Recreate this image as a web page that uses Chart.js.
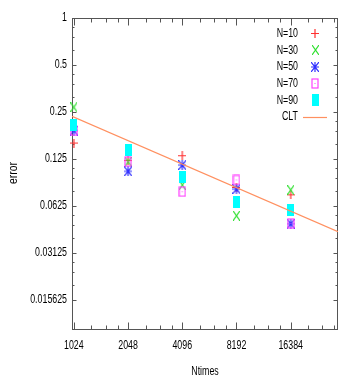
<!DOCTYPE html>
<html>
<head>
<meta charset="utf-8">
<title>error vs Ntimes</title>
<script src="https://cdn.jsdelivr.net/npm/chart.js@4/dist/chart.umd.min.js"></script>
<style>
  html, body { margin: 0; padding: 0; background: #fff; }
  #chart { display: block; }
</style>
</head>
<body>
<canvas id="chart" width="354" height="382"></canvas>
<script>
// Values
const ntimes = [1024, 2048, 4096, 8192, 16384];
const errN10 = [0.158, 0.122, 0.131, 0.082, 0.0735];
const errN30 = [0.268, 0.120, 0.085, 0.054, 0.079];
const errN50 = [0.190, 0.104, 0.114, 0.080, 0.048];
const errN70 = [0.189, 0.120, 0.077, 0.0916, 0.0483];
const errN90 = [0.207, 0.143, 0.096, 0.0658, 0.059];
const cltX = [1000, 30000];
const cltY = [0.234, 0.0427];

// Axis ticks
const xTicks = [1024, 2048, 4096, 8192, 16384];
const xMinorTicks = [1280, 1536, 1792, 2560, 3072, 3584, 5120, 6144, 7168,
  10240, 12288, 14336, 20480, 24576, 28672];
const yTicks = [1, 0.5, 0.25, 0.125, 0.0625, 0.03125, 0.015625];
const yMinorTicks = [0.875, 0.75, 0.625, 0.4375, 0.375, 0.3125,
  0.21875, 0.1875, 0.15625, 0.109375, 0.09375, 0.078125,
  0.0546875, 0.046875, 0.0390625, 0.02734375, 0.0234375, 0.01953125];

// gnuplot's font is tall and narrow: squeeze a normal sans sideways
const fontFamily = '"Liberation Sans", Arial, sans-serif';
const fontSize = 12;
const squeeze = 0.735;
const textColor = '#000';
const frameColor = '#555';

function drawText(ctx, text, x, y, align, rotate, sx = squeeze) {
  ctx.save();
  ctx.translate(x, y);
  if (rotate) ctx.rotate(-Math.PI / 2);
  ctx.scale(sx, 1);
  ctx.font = `${fontSize}px ${fontFamily}`;
  ctx.fillStyle = textColor;
  ctx.textAlign = align;
  ctx.textBaseline = 'middle';
  ctx.fillText(text, 0, 0);
  ctx.restore();
}

// gnuplot-like point markers, drawn once on small canvases
function makeMarker(w, h, draw) {
  const c = document.createElement('canvas');
  c.width = w;
  c.height = h;
  const g = c.getContext('2d');
  g.lineWidth = 1.2;
  draw(g, w, h);
  return c;
}

const plusMarker = makeMarker(8, 9, (g, w, h) => {
  g.strokeStyle = '#ff3030';
  g.beginPath();
  g.moveTo(0, 4.5); g.lineTo(w, 4.5);
  g.moveTo(4, 0); g.lineTo(4, h);
  g.stroke();
});

const crossMarker = makeMarker(7, 10, (g, w, h) => {
  g.strokeStyle = '#30e030';
  g.beginPath();
  g.moveTo(0, 0); g.lineTo(w, h);
  g.moveTo(w, 0); g.lineTo(0, h);
  g.stroke();
});

const starMarker = makeMarker(8, 10, (g, w, h) => {
  g.strokeStyle = '#3030ff';
  g.beginPath();
  g.moveTo(0, 0); g.lineTo(w, h);
  g.moveTo(w, 0); g.lineTo(0, h);
  g.moveTo(4, 0); g.lineTo(4, h);
  g.moveTo(0, 5); g.lineTo(w, 5);
  g.stroke();
});

const boxMarker = makeMarker(8, 11, (g, w, h) => {
  g.strokeStyle = '#ff40ff';
  g.strokeRect(1, 1, w - 2, h - 2);
  g.fillStyle = '#ff40ff';
  g.fillRect(3.5, 5, 1, 1);
});

const fillMarker = makeMarker(7, 12, (g, w, h) => {
  g.fillStyle = '#00ffff';
  g.fillRect(0, 0, w, h);
});

function toPoints(xs, ys) {
  return xs.map((x, i) => ({ x, y: ys[i] }));
}

function pointSet(label, ys, marker, order) {
  return {
    label,
    data: toPoints(ntimes, ys),
    pointStyle: marker,
    pointRadius: 4,
    showLine: false,
    clip: false,
    order
  };
}

// Box, inward ticks on all four sides
const framePlugin = {
  id: 'frame',
  beforeDatasetsDraw(chart) {
    const { ctx, chartArea: a, scales } = chart;
    const L = Math.round(a.left) + 0.5;
    const R = Math.round(a.right) - 0.5;
    const T = Math.round(a.top) + 0.5;
    const B = Math.round(a.bottom) - 0.5;
    ctx.save();
    ctx.strokeStyle = frameColor;
    ctx.lineWidth = 1;
    ctx.strokeRect(L, T, R - L, B - T);
    ctx.beginPath();
    const xTick = (v, len) => {
      const px = Math.round(scales.x.getPixelForValue(v)) + 0.5;
      ctx.moveTo(px, B); ctx.lineTo(px, B - len);
      ctx.moveTo(px, T); ctx.lineTo(px, T + len);
    };
    const yTick = (v, len) => {
      const py = Math.round(scales.y.getPixelForValue(v)) + 0.5;
      ctx.moveTo(L, py); ctx.lineTo(L + len, py);
      ctx.moveTo(R, py); ctx.lineTo(R - len, py);
    };
    xTicks.forEach(v => xTick(v, 7));
    xMinorTicks.forEach(v => xTick(v, 4));
    yTicks.forEach(v => yTick(v, 4));
    yMinorTicks.forEach(v => yTick(v, 2));
    ctx.stroke();
    ctx.restore();
  }
};

// Tick labels and axis titles, placed from the scales
const axisTextPlugin = {
  id: 'axisText',
  afterDraw(chart) {
    const { ctx, chartArea: a, scales } = chart;
    scales.x.ticks.forEach(t => {
      drawText(ctx, String(t.value), scales.x.getPixelForValue(t.value), a.bottom + 16, 'center');
    });
    scales.y.ticks.forEach(t => {
      drawText(ctx, String(t.value), a.left - 5, scales.y.getPixelForValue(t.value), 'right');
    });
    drawText(ctx, 'Ntimes', (a.left + a.right) / 2, a.bottom + 42, 'center');
    drawText(ctx, 'error', 13.5, (a.top + a.bottom) / 2 - 1, 'center', true, 0.86);
  }
};

// Key in the top right corner: label, then sample
const keyPlugin = {
  id: 'key',
  afterDraw(chart) {
    const { ctx } = chart;
    chart.data.datasets.forEach((ds, i) => {
      const y = 33.5 + i * 16.7;
      drawText(ctx, ds.label, 298, y, 'right');
      ctx.save();
      if (ds.showLine) {
        ctx.strokeStyle = ds.borderColor;
        ctx.lineWidth = ds.borderWidth;
        ctx.beginPath();
        ctx.moveTo(303, Math.round(y) + 0.5);
        ctx.lineTo(327, Math.round(y) + 0.5);
        ctx.stroke();
      } else {
        const m = ds.pointStyle;
        ctx.drawImage(m, Math.round(315 - m.width / 2), Math.round(y - m.height / 2));
      }
      ctx.restore();
    });
  }
};

new Chart(document.getElementById('chart'), {
  type: 'scatter',
  data: {
    datasets: [
      pointSet('N=10', errN10, plusMarker, 5),
      pointSet('N=30', errN30, crossMarker, 4),
      pointSet('N=50', errN50, starMarker, 3),
      pointSet('N=70', errN70, boxMarker, 2),
      pointSet('N=90', errN90, fillMarker, 1),
      {
        label: 'CLT',
        data: toPoints(cltX, cltY),
        showLine: true,
        borderColor: '#ff9060',
        borderWidth: 1.2,
        pointRadius: 0,
        order: 0
      }
    ]
  },
  options: {
    responsive: false,
    animation: false,
    layout: { padding: { top: 18, right: 16, left: 0, bottom: 0 } },
    plugins: {
      legend: { display: false },
      tooltip: { enabled: false }
    },
    scales: {
      x: {
        type: 'logarithmic',
        min: 1000,
        max: 30000,
        afterBuildTicks: scale => { scale.ticks = xTicks.map(v => ({ value: v })); },
        afterFit: scale => { scale.height = 52; },
        grid: { display: false },
        border: { display: false },
        ticks: { display: false }
      },
      y: {
        type: 'logarithmic',
        min: 0.01,
        max: 1,
        afterBuildTicks: scale => { scale.ticks = yTicks.map(v => ({ value: v })); },
        afterFit: scale => { scale.width = 72; },
        grid: { display: false },
        border: { display: false },
        ticks: { display: false }
      }
    }
  },
  plugins: [framePlugin, axisTextPlugin, keyPlugin]
});
</script>
</body>
</html>
